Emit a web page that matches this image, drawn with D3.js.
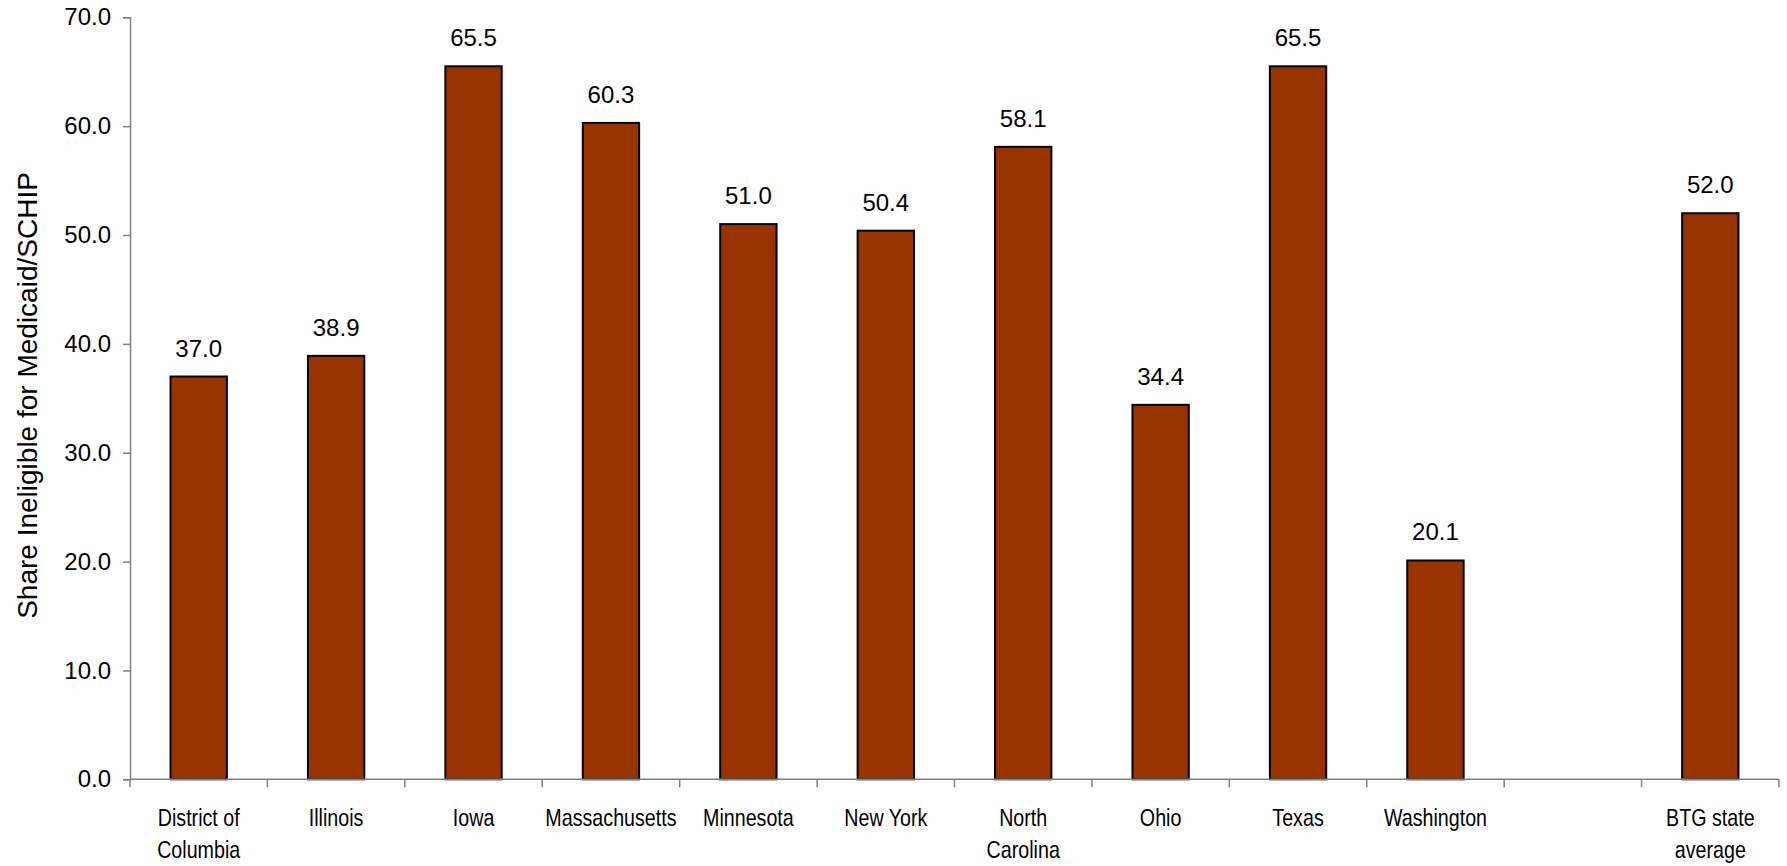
<!DOCTYPE html>
<html>
<head>
<meta charset="utf-8">
<script src="https://cdn.jsdelivr.net/npm/d3@7"></script>
<style>
  html, body { margin: 0; padding: 0; background: #fff; }
  svg { display: block; }
</style>
</head>
<body>
<svg id="chart" width="1787" height="866"></svg>
<script>
const categories = ["District of Columbia", "Illinois", "Iowa", "Massachusetts", "Minnesota", "New York", "North Carolina", "Ohio", "Texas", "Washington", "", "BTG state average"];
const categoryLines = [["District of", "Columbia"], ["Illinois"], ["Iowa"], ["Massachusetts"], ["Minnesota"], ["New York"], ["North", "Carolina"], ["Ohio"], ["Texas"], ["Washington"], [], ["BTG state", "average"]];
const values = [37.0, 38.9, 65.5, 60.3, 51.0, 50.4, 58.1, 34.4, 65.5, 20.1, null, 52.0];
const yTicks = [0, 10, 20, 30, 40, 50, 60, 70];
const yTitle = "Share Ineligible for Medicaid/SCHIP";

const svg = d3.select("#chart");
const plotLeft = 130, plotRight = 1779, plotTop = 17.3, plotBottom = 779.3;

const x = d3.scaleBand().domain(categories).range([plotLeft, plotRight]).paddingInner(0.59).paddingOuter(0.295);
const y = d3.scaleLinear().domain([0, 70]).range([plotBottom, plotTop]);

const numFont = "'Liberation Sans', Arial, sans-serif";

// Y axis
const yAxis = d3.axisLeft(y).tickValues(yTicks).tickFormat(d3.format(".1f")).tickSize(7).tickPadding(12);
const gy = svg.append("g").attr("transform", `translate(${plotLeft},0)`).call(yAxis);
gy.select(".domain").attr("stroke", "#808080").attr("stroke-width", 1.5);
gy.selectAll(".tick line").attr("stroke", "#808080").attr("stroke-width", 1.5);
gy.selectAll(".tick text").attr("font-family", numFont).attr("font-size", 24).attr("fill", "#000");

// Bars
const data = categories.map((c, i) => ({c, v: values[i], lines: categoryLines[i]}));
svg.append("g").selectAll("rect").data(data.filter(d => d.v !== null)).join("rect")
  .attr("x", d => x(d.c))
  .attr("y", d => y(d.v))
  .attr("width", x.bandwidth())
  .attr("height", d => y(0) - y(d.v))
  .attr("fill", "#993300")
  .attr("stroke", "#000")
  .attr("stroke-width", 2);

// Value labels
svg.append("g").selectAll("text").data(data.filter(d => d.v !== null)).join("text")
  .attr("x", d => x(d.c) + x.bandwidth() / 2)
  .attr("y", d => y(d.v) - 20)
  .attr("text-anchor", "middle")
  .attr("font-family", numFont)
  .attr("font-size", 24)
  .attr("fill", "#000")
  .text(d => d3.format(".1f")(d.v));

// X axis line and boundary ticks
const gx = svg.append("g");
gx.append("line").attr("x1", plotLeft).attr("x2", plotRight).attr("y1", y(0)).attr("y2", y(0))
  .attr("stroke", "#808080").attr("stroke-width", 1.5);
const bounds = d3.range(categories.length + 1).map(i => plotLeft + i * x.step());
gx.selectAll("line.tk").data(bounds).join("line").attr("class", "tk")
  .attr("x1", d => d).attr("x2", d => d).attr("y1", y(0)).attr("y2", y(0) + 8)
  .attr("stroke", "#808080").attr("stroke-width", 1.5);

// Category labels (narrow face emulated by horizontal compression)
const lab = svg.append("g").selectAll("text").data(data).join("text")
  .attr("transform", d => `translate(${x(d.c) + x.bandwidth() / 2},826) scale(0.82,1)`)
  .attr("text-anchor", "middle")
  .attr("font-family", numFont)
  .attr("font-size", 24)
  .attr("fill", "#000");
lab.selectAll("tspan").data(d => d.lines).join("tspan")
  .attr("x", 0)
  .attr("dy", (d, i) => i === 0 ? 0 : 32)
  .text(d => d);

// Y title
svg.append("text")
  .attr("transform", `translate(37,${(173 + 618) / 2}) rotate(-90)`)
  .attr("text-anchor", "middle")
  .attr("font-family", numFont)
  .attr("font-size", 28)
  .attr("fill", "#000")
  .text(yTitle);
</script>
</body>
</html>
